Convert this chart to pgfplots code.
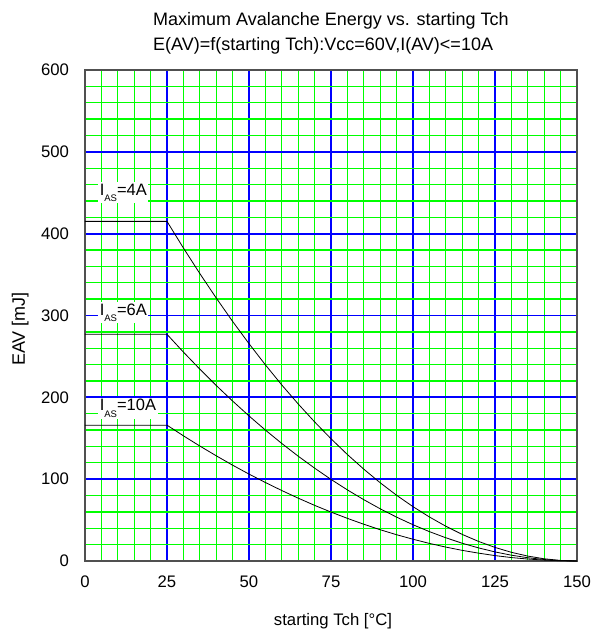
\documentclass[border=0pt]{standalone}
\usepackage{fontspec}
\setmainfont{Liberation Sans}
\usepackage{pgfplots}
\pgfplotsset{compat=1.18}
\definecolor{gridgreen}{RGB}{0,255,0}
\definecolor{gridblue}{RGB}{0,0,255}
\definecolor{frame}{RGB}{80,80,80}

% E(AV), every 5 degC
\pgfplotstableread{
T     A4     A6     A10
0     415    277    166
25    415    277    166
30    382.5  255.3  153.0
35    351.3  234.5  140.5
40    321.4  214.5  128.6
45    292.8  195.5  117.1
50    265.6  177.3  106.2
55    239.7  160.0  95.9
60    215.1  143.6  86.1
65    191.9  128.1  76.8
70    170.0  113.5  68.0
75    149.4  99.7   59.8
80    130.1  86.9   52.1
85    112.2  74.9   44.9
90    95.6   63.8   38.2
95    80.3   53.6   32.1
100   66.4   44.3   26.6
105   53.8   35.9   21.5
110   42.5   28.4   17.0
115   32.5   21.7   13.0
120   23.9   16.0   9.6
125   16.6   11.1   6.6
130   10.6   7.1    4.2
135   6.0    4.0    2.4
140   2.7    1.8    1.1
145   0.7    0.4    0.3
150   0      0      0
}\eav

\newcommand\ias[1]{I\raisebox{-6.5pt}{\fontsize{9.5}{10}\selectfont AS}=#1}

\begin{document}
\begin{tikzpicture}
\begin{axis}[
    set layers,
    at={(0,0)}, anchor=south west,
    scale only axis, width=492pt, height=491pt,
    xmin=0, xmax=150, ymin=0, ymax=600,
    xtick={0,25,...,150}, ytick={0,100,...,600},
    minor xtick={5,10,...,145}, minor ytick={20,40,...,580},
    grid=both,
    major tick length=0pt, minor tick length=0pt,
    major grid style={draw=gridblue, line width=1.8pt},
    minor grid style={draw=gridgreen, line width=1.3pt},
    axis line style={draw=frame, line width=1.2pt},
    ticklabel style={font=\fontsize{16.7}{20}\selectfont},
    /pgf/number format/assume math mode=true,
    xticklabel style={anchor=base, yshift=-27pt},
    yticklabel style={anchor=east, xshift=-12.5pt},
]
\addplot[black, line width=0.8pt] table[x=T, y=A4] {\eav};
\addplot[black, line width=0.8pt] table[x=T, y=A6] {\eav};
\addplot[black, line width=0.8pt] table[x=T, y=A10] {\eav};

\node[anchor=base west, fill=white, inner sep=1.5pt, font=\fontsize{16.5}{20}\selectfont]
  at (axis cs:4,447) {\ias{4A}};
\node[anchor=base west, fill=white, inner sep=1.5pt, font=\fontsize{16.5}{20}\selectfont]
  at (axis cs:4,300.5) {\ias{6A}};
\node[anchor=base west, fill=white, inner sep=1.5pt, font=\fontsize{16.5}{20}\selectfont]
  at (axis cs:4,183.5) {\ias{10A}};
\end{axis}

\node[anchor=base west, inner sep=0pt, font=\fontsize{18}{20}\selectfont]
  at (68pt,535pt) {Maximum Avalanche Energy vs. starting Tch};
\node[anchor=base west, inner sep=0pt, font=\fontsize{18}{20}\selectfont]
  at (68pt,510pt) {E(AV)=f(starting Tch):Vcc=60V,I(AV)<=10A};
\node[anchor=base, inner sep=0pt, font=\fontsize{16.7}{20}\selectfont]
  at (248pt,-64pt) {starting Tch [°C]};
\node[anchor=base, rotate=90, inner sep=0pt, font=\fontsize{18}{22}\selectfont]
  at (-60pt,232pt) {EAV [mJ]};
\pgfresetboundingbox
\path[use as bounding box] (-85pt,-76pt) rectangle (509pt,561pt);
\end{tikzpicture}
\end{document}
